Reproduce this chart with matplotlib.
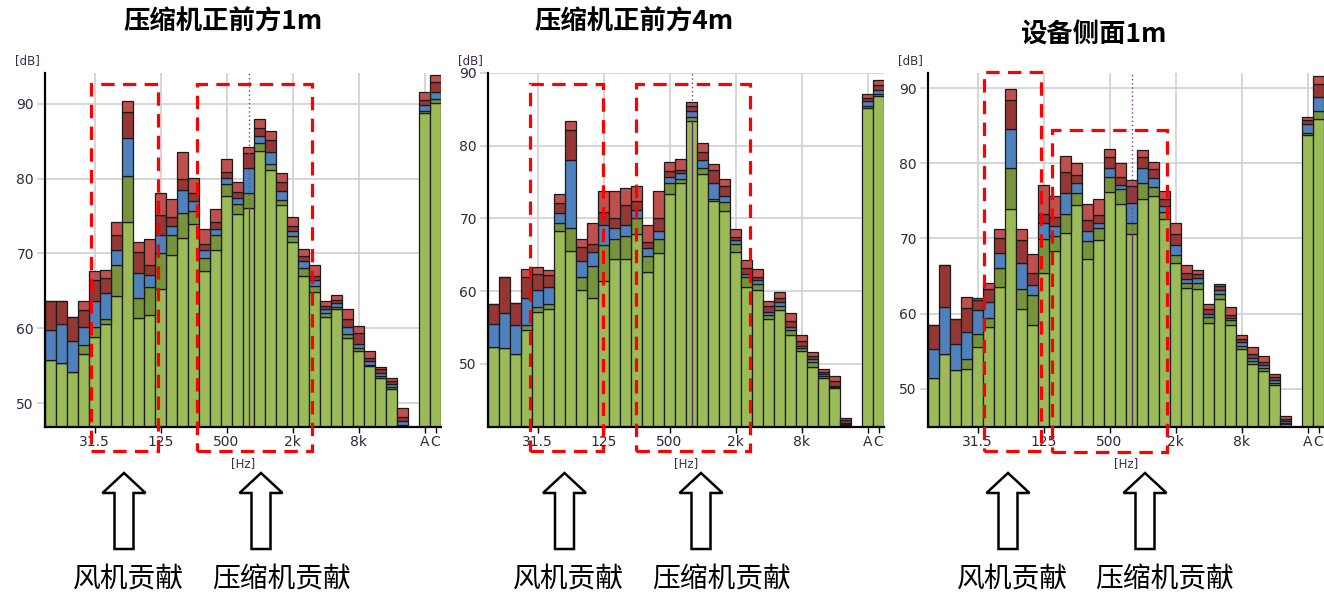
import matplotlib.pyplot as plt
from matplotlib.patches import Rectangle, Polygon

plt.rcParams['font.family'] = ['DejaVu Sans']
CJK = ['Noto Sans CJK SC', 'DejaVu Sans']

# 1/3-octave bands 12.5 Hz .. 20 kHz, then the A and C totals
bands = ['12.5', '16', '20', '25', '31.5', '40', '50', '63', '80', '100', '125',
         '160', '200', '250', '315', '400', '500', '630', '800', '1k', '1.25k',
         '1.6k', '2k', '2.5k', '3.15k', '4k', '5k', '6.3k', '8k', '10k', '12.5k',
         '16k', '20k', 'A', 'C']
shown_ticks = ['31.5', '125', '500', '2k', '8k', 'A', 'C']
grid_bands = ['31.5', '125', '500', '2k', '8k', 'A']
cursor_band = '800'

# stacked levels (dB), cumulative from the bottom layer up
front1_green = [55.7, 55.4, 54.2, 56.6, 58.8, 60.5, 64.3, 74.2, 61.4, 61.8, 65.3, 69.8, 72.0, 73.9, 67.6, 70.5, 77.6, 75.2,
                76.0, 83.7, 81.1, 76.4, 71.5, 67.0, 64.9, 61.5, 62.5, 58.7, 56.9, 54.9, 53.4, 51.9, 47.0, 88.7, 90.1]
front1_olive = [55.7, 55.4, 54.2, 57.7, 60.2, 61.2, 68.4, 80.3, 64.0, 65.5, 70.1, 72.4, 75.4, 75.6, 69.4, 72.5, 79.3, 76.6,
                78.1, 84.7, 82.0, 77.1, 72.3, 68.0, 65.6, 62.0, 62.9, 59.2, 57.4, 55.1, 53.6, 52.1, 47.1, 89.0, 90.6]
front1_blue = [59.7, 60.6, 58.3, 60.2, 63.7, 64.7, 70.4, 85.4, 67.4, 67.1, 72.5, 73.6, 78.5, 77.0, 70.4, 73.2, 80.1, 77.4,
               81.4, 85.7, 83.6, 78.3, 73.0, 69.0, 66.4, 62.5, 63.4, 60.1, 57.9, 55.6, 54.0, 52.5, 47.6, 89.8, 91.6]
front1_darkred = [63.7, 63.7, 61.5, 62.4, 66.5, 66.7, 72.4, 88.9, 70.2, 68.5, 75.1, 74.8, 79.9, 78.0, 71.2, 74.2, 80.9, 78.2,
                  83.4, 86.8, 85.1, 79.5, 73.6, 69.7, 67.0, 63.0, 63.8, 61.2, 59.3, 56.0, 54.5, 52.9, 48.2, 90.5, 92.9]
front1_total = [63.7, 63.7, 61.5, 63.7, 67.7, 67.8, 74.2, 90.3, 71.5, 71.9, 78.0, 77.3, 83.5, 80.1, 73.3, 75.9, 82.6, 79.6,
                84.2, 87.9, 86.3, 80.8, 74.8, 70.6, 68.4, 63.7, 64.4, 62.6, 60.3, 56.9, 54.8, 53.4, 49.3, 91.5, 93.8]

front4_green = [52.3, 52.1, 51.3, 54.6, 57.1, 57.6, 68.2, 65.5, 60.2, 59.1, 61.4, 64.4, 64.4, 67.8, 62.6, 65.3, 73.3, 74.8,
                83.4, 76.1, 72.4, 71.0, 65.4, 60.5, 60.1, 56.1, 57.4, 54.0, 51.7, 49.6, 48.1, 46.6, 41.6, 85.2, 86.8]
front4_olive = [52.3, 52.1, 51.3, 55.4, 57.8, 58.2, 69.4, 68.7, 62.0, 63.4, 66.3, 67.2, 67.6, 70.1, 64.8, 67.2, 74.8, 75.4,
                83.9, 76.9, 72.6, 72.2, 66.5, 61.9, 61.0, 56.7, 58.0, 54.7, 52.1, 50.2, 48.3, 46.8, 41.7, 85.5, 87.1]
front4_blue = [55.5, 57.0, 55.3, 59.1, 60.1, 60.5, 70.8, 78.0, 64.2, 65.4, 69.1, 68.7, 69.1, 71.2, 65.9, 68.2, 75.7, 76.2,
               84.8, 78.0, 74.8, 73.1, 67.0, 62.4, 61.5, 57.1, 58.5, 55.1, 52.5, 50.7, 48.6, 47.0, 41.9, 86.1, 87.7]
front4_darkred = [58.2, 62.0, 58.4, 62.0, 62.4, 62.2, 72.1, 82.1, 66.0, 66.5, 70.9, 70.0, 71.9, 72.4, 66.7, 70.1, 76.5, 76.7,
                  85.4, 79.2, 76.6, 74.5, 67.5, 63.2, 62.0, 57.9, 59.1, 55.9, 53.1, 51.1, 48.9, 47.6, 42.2, 86.6, 88.4]
front4_total = [58.2, 62.0, 58.4, 63.0, 63.3, 62.9, 73.4, 83.4, 67.1, 69.4, 73.8, 73.8, 74.2, 74.5, 69.1, 73.8, 77.7, 78.2,
                86.0, 80.4, 77.5, 75.4, 68.5, 64.3, 63.0, 58.6, 59.9, 57.0, 53.9, 51.6, 49.3, 48.3, 42.5, 87.1, 89.0]

side1_green = [51.4, 54.6, 52.5, 52.6, 55.5, 58.2, 63.5, 73.9, 60.6, 58.5, 65.4, 68.3, 70.7, 74.4, 67.3, 69.8, 76.2, 74.6,
               70.6, 75.2, 75.6, 72.6, 66.7, 63.4, 63.3, 58.7, 61.9, 58.5, 55.3, 53.3, 52.4, 50.5, 45.3, 83.7, 85.9]
side1_olive = [51.4, 54.6, 52.5, 53.9, 57.3, 59.4, 66.1, 79.3, 63.3, 62.5, 69.9, 70.3, 73.2, 76.0, 69.7, 71.4, 78.1, 76.6,
               72.0, 77.4, 76.8, 73.5, 67.8, 64.0, 64.1, 59.5, 62.6, 59.1, 55.7, 53.7, 52.8, 50.8, 45.4, 84.0, 87.0]
side1_blue = [55.3, 60.8, 55.9, 57.6, 60.5, 61.5, 68.0, 84.5, 66.7, 63.8, 72.0, 71.6, 76.0, 77.4, 71.0, 72.1, 79.4, 77.1,
              74.7, 79.4, 78.0, 74.3, 69.1, 64.6, 64.7, 60.0, 63.1, 59.4, 56.2, 54.1, 53.2, 51.2, 45.7, 85.2, 88.8]
side1_darkred = [58.5, 66.5, 59.3, 60.7, 61.8, 63.3, 70.0, 88.4, 69.8, 65.4, 73.2, 72.8, 78.8, 78.4, 72.4, 73.1, 80.8, 78.1,
                 76.9, 80.8, 79.2, 75.2, 70.6, 65.4, 65.3, 60.6, 63.6, 59.8, 56.6, 54.6, 53.6, 51.5, 45.9, 85.8, 90.6]
side1_total = [58.5, 66.5, 59.3, 62.2, 62.1, 64.1, 71.3, 89.9, 71.3, 67.9, 77.1, 75.7, 80.9, 80.0, 74.6, 75.2, 81.9, 80.0,
               77.8, 81.8, 80.2, 76.3, 72.0, 66.5, 65.8, 61.3, 63.9, 60.9, 57.1, 55.5, 54.4, 52.0, 46.3, 86.2, 91.6]

layer_colors = ['#9BBB59', '#77933C', '#4F81BD', '#953735', '#C0504D']

# bands 0..32 side by side, one empty slot, then A and C
xpos = list(range(33)) + [34, 35]
pos = dict(zip(bands, xpos))

W, H = 1324, 596
fig = plt.figure(figsize=(W / 100, H / 100), dpi=100)


def fpos(x, y):
    return x / W, 1 - y / H


def hollow_arrow(cx, tip, base, head_w=43, shaft_w=19, head_len=20):
    pts = [(cx, tip), (cx + head_w / 2, tip + head_len), (cx + shaft_w / 2, tip + head_len),
           (cx + shaft_w / 2, base), (cx - shaft_w / 2, base), (cx - shaft_w / 2, tip + head_len),
           (cx - head_w / 2, tip + head_len)]
    fig.patches.append(Polygon([fpos(*p) for p in pts], closed=True, transform=fig.transFigure,
                               facecolor='white', edgecolor='black', lw=1.8, joinstyle='miter'))


panels = [
    dict(title='压缩机正前方1m', left=45, title_at=(223, 22), ylim=(46.8, 94.1),
         levels=[front1_green, front1_olive, front1_blue, front1_darkred, front1_total],
         boxes=[(3.65, 9.77, 0.969, -0.068), (13.32, 23.77, 0.969, -0.068)],
         arrows=[124, 261], notes=[128, 281]),
    dict(title='压缩机正前方4m', left=488, title_at=(634, 22), ylim=(41.3, 90.0),
         levels=[front4_green, front4_olive, front4_blue, front4_darkred, front4_total],
         boxes=[(3.32, 9.95, 0.968, -0.067), (12.93, 23.32, 0.968, -0.067)],
         arrows=[564.5, 701], notes=[568, 721]),
    dict(title='设备侧面1m', left=928, title_at=(1093, 35), ylim=(44.9, 92.0),
         levels=[side1_green, side1_olive, side1_blue, side1_darkred, side1_total],
         boxes=[(4.62, 9.77, 1.002, -0.067), (10.75, 21.25, 0.839, -0.07)],
         arrows=[1008, 1145], notes=[1012, 1164]),
]

for p in panels:
    ax = fig.add_axes([p['left'] / W, 1 - 427 / H, 396 / W, 354 / H])
    lo, hi = p['ylim']

    # stacked segments, each outlined in black
    prev = [lo - 5] * len(xpos)
    for color, top in zip(layer_colors, p['levels']):
        heights = [t - b for t, b in zip(top, prev)]
        ax.bar(xpos, heights, bottom=prev, width=1.0, color=color,
               edgecolor='#1a1a1a', linewidth=0.9, zorder=2)
        prev = top

    # cursor on the 800 Hz band
    ci = bands.index(cursor_band)
    cx = pos[cursor_band]
    ax.vlines(cx, lo, p['levels'][0][ci], color='#5b2a6e', lw=1.0, zorder=3)
    ax.vlines(cx, p['levels'][0][ci], hi, color='#7a3f8f', lw=1.0, linestyles=(0, (1, 2)), zorder=3)

    for b in grid_bands:
        ax.axvline(pos[b], color='#d0d0d0', lw=1.2, zorder=0)
    ax.set_yticks([50, 60, 70, 80, 90])
    ax.yaxis.grid(True, color='#d0d0d0', lw=1.2, zorder=0)
    ax.set_axisbelow(True)

    ax.set_xlim(-0.5, 35.5)
    ax.set_ylim(lo, hi)
    ax.set_xticks([pos[b] for b in shown_ticks])
    ax.set_xticklabels(shown_ticks)
    ax.tick_params(axis='x', length=4, width=1, color='black', labelsize=10,
                   labelcolor='#2b2b3b', pad=2)
    ax.tick_params(axis='y', length=6, width=1.2, color='#d0d0d0', labelsize=10,
                   labelcolor='#2b2b3b', pad=2)
    for s in ['top', 'right']:
        ax.spines[s].set_visible(False)
    for s in ['left', 'bottom']:
        ax.spines[s].set_linewidth(1.6)
        ax.spines[s].set_color('black')
        ax.spines[s].set_zorder(4)

    # highlighted frequency ranges
    for x0, x1, ytop, ybot in p['boxes']:
        ax.add_patch(Rectangle((x0, ybot), x1 - x0, ytop - ybot, transform=ax.get_xaxis_transform(),
                               fill=False, edgecolor='#ff0000', lw=2.3, linestyle=(0, (4.2, 2.6)),
                               clip_on=False, zorder=6))

    fig.text(*fpos(p['left'] - 18, 61), '[dB]', fontsize=8.5, color='#3a2b4a', ha='center', va='center')
    fig.text(*fpos(p['left'] + 198, 464), '[Hz]', fontsize=8.5, color='#3a2b4a', ha='center', va='center')
    fig.text(*fpos(*p['title_at']), p['title'], fontsize=19, fontweight='bold', family=CJK,
             ha='center', va='center')

    for ax_x in p['arrows']:
        hollow_arrow(ax_x, 473, 549)
    fig.text(*fpos(p['notes'][0], 579), '风机贡献', fontsize=20, fontweight='light', family=CJK,
             ha='center', va='center')
    fig.text(*fpos(p['notes'][1], 579), '压缩机贡献', fontsize=20, fontweight='light', family=CJK,
             ha='center', va='center')

fig.savefig('out.png', dpi=100)
